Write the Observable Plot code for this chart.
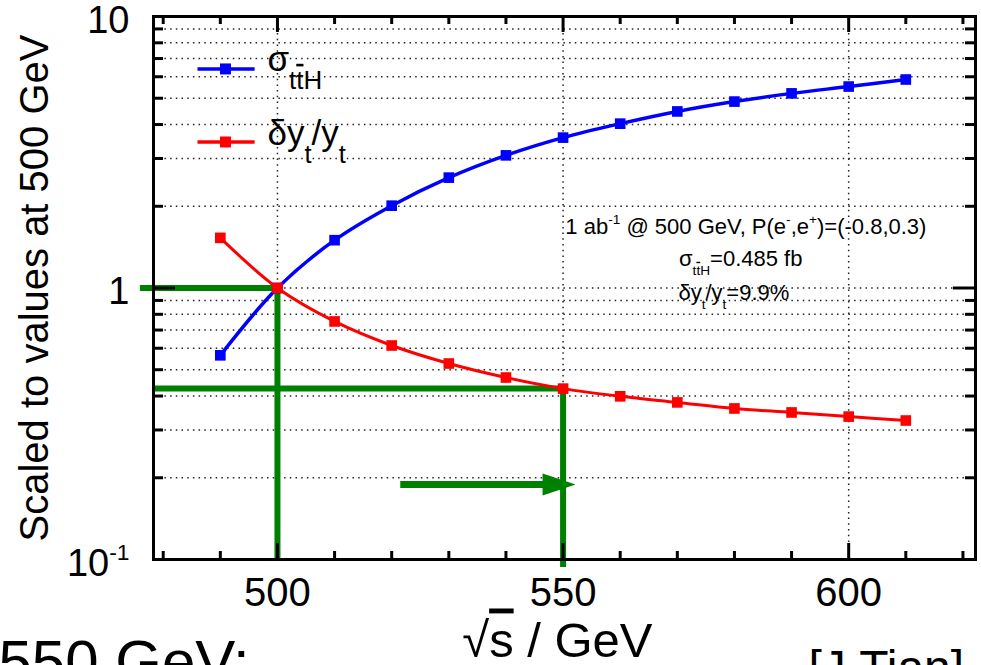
<!DOCTYPE html>
<html><head><meta charset="utf-8">
<script src="https://cdn.jsdelivr.net/npm/d3@7"></script>
<script src="https://cdn.jsdelivr.net/npm/@observablehq/plot@0.6"></script>
<style>html,body{margin:0;padding:0;background:#fff;overflow:hidden}</style>
</head><body><div id="chart"></div>
<script>
// ---- data ----
const energy = [490, 500, 510, 520, 530, 540, 550, 560, 570, 580, 590, 600, 610];
const sigmaTTH = [0.565, 1.0, 1.50, 2.01, 2.55, 3.08, 3.58, 4.03, 4.47, 4.86, 5.21, 5.52, 5.86];
const yukawaPrecision = [1.53, 1.0, 0.753, 0.614, 0.527, 0.468, 0.426, 0.399, 0.379, 0.360, 0.348, 0.336, 0.325];
const xMajorTicks = [500, 550, 600];
const xMinorTicks = [480, 490, 510, 520, 530, 540, 560, 570, 580, 590, 610, 620];
const yMajorTicks = [0.1, 1, 10];
const yMinorTicks = [0.2, 0.3, 0.4, 0.5, 0.6, 0.7, 0.8, 0.9, 2, 3, 4, 5, 6, 7, 8, 9];
const yLabels = ["10⁻¹", "1", "10"];
const seriesNames = ["σtt̄H", "δyt/yt"];
const annotationLines = ["1 ab-1 @ 500 GeV, P(e-,e+)=(-0.8,0.3)", "σtt̄H=0.485 fb", "δyt/yt=9.9%"];
// guide lines (reading 550 GeV off the curve)
const guideH = [{x1: 476.0, x2: 500, y: 1}, {x1: 478.3, x2: 550, y: 0.426}];
const guideV = [{x: 500, y1: 1, y2: 0.1}, {x: 550, y1: 0.426, y2: 0.0935}];

// ---- layout ----
const W = 981, H = 665, mL = 153, mR = 6, mT = 16, mB = 106;
const FW = W - mL - mR, FH = H - mT - mB;
const BLUE = "#0000ff", RED = "#ff0000", GREEN = "#008000";

const sigmaRows = energy.map((e, i) => ({energy: e, value: sigmaTTH[i]}));
const yukawaRows = energy.map((e, i) => ({energy: e, value: yukawaPrecision[i]}));
const legendRows = [
  {name: seriesNames[0], color: BLUE, y: 6.41, ty: 6.95},
  {name: seriesNames[1], color: RED, y: 3.45, ty: 3.71}
];
const annRows = [
  {t: annotationLines[0], x: 582.0, y: 1.685},
  {t: annotationLines[1], x: 581.1, y: 1.284},
  {t: annotationLines[2], x: 579.9, y: 0.962}
];
const arrowHead = {
  draw(ctx, size) {
    const r = Math.sqrt(size / Math.PI);
    ctx.moveTo(r, 0); ctx.lineTo(-r, -0.67 * r); ctx.lineTo(-r, 0.67 * r); ctx.closePath();
  }
};
const dotted = {stroke: "#222", strokeWidth: 1.5, strokeDasharray: "1.5,4.2"};

const plot = Plot.plot({
  width: W, height: H,
  marginLeft: mL, marginRight: mR, marginTop: mT, marginBottom: mB,
  style: {fontFamily: "'Liberation Sans', Arial, Helvetica, sans-serif", background: "white", color: "black"},
  x: {domain: [478.3, 622.2], axis: null},
  y: {type: "log", domain: [0.1, 10], axis: null},
  marks: [
    // grid
    Plot.ruleY([...yMinorTicks, 1], {y: d => d, ...dotted}),
    Plot.ruleX(xMajorTicks, {x: d => d, ...dotted}),
    // green guides
    Plot.ruleY(guideH, {y: "y", x1: "x1", x2: "x2", stroke: GREEN, strokeWidth: 6}),
    Plot.ruleX(guideV, {x: "x", y1: "y1", y2: "y2", stroke: GREEN, strokeWidth: 6}),
    Plot.link([{x1: 521.5, x2: 546.5, y: 0.189}], {x1: "x1", x2: "x2", y1: "y", y2: "y", stroke: GREEN, strokeWidth: 7}),
    Plot.dot([{x: 549.3, y: 0.189}], {x: "x", y: "y", r: 16.5, symbol: arrowHead, fill: GREEN, stroke: "none"}),
    // series
    Plot.line(sigmaRows, {x: "energy", y: "value", stroke: BLUE, strokeWidth: 3.5, curve: "catmull-rom"}),
    Plot.dot(sigmaRows, {x: "energy", y: "value", symbol: "square", r: 6, fill: BLUE, stroke: "none"}),
    Plot.line(yukawaRows, {x: "energy", y: "value", stroke: RED, strokeWidth: 3, curve: "catmull-rom"}),
    Plot.dot(yukawaRows, {x: "energy", y: "value", symbol: "square", r: 6, fill: RED, stroke: "none"}),
    // ticks (inward, all four sides)
    Plot.tickX(xMinorTicks, {x: d => d, insetTop: FH - 8, strokeWidth: 3}),
    Plot.tickX(xMinorTicks, {x: d => d, insetBottom: FH - 8, strokeWidth: 3}),
    Plot.tickX(xMajorTicks, {x: d => d, insetTop: FH - 16, strokeWidth: 3}),
    Plot.tickX(xMajorTicks, {x: d => d, insetBottom: FH - 16, strokeWidth: 3}),
    Plot.tickY(yMinorTicks, {y: d => d, insetRight: FW - 10, strokeWidth: 3}),
    Plot.tickY(yMinorTicks, {y: d => d, insetLeft: FW - 10, strokeWidth: 3}),
    Plot.tickY([1], {y: d => d, insetRight: FW - 22, strokeWidth: 3}),
    Plot.tickY([1], {y: d => d, insetLeft: FW - 22, strokeWidth: 3}),
    Plot.frame({stroke: "black", strokeWidth: 3}),
    // tick labels
    Plot.text(xMajorTicks, {x: d => d, text: d => String(d), frameAnchor: "bottom", lineAnchor: "bottom", dy: 46, fontSize: 40}),
    Plot.text(yMajorTicks, {y: d => d, text: (d, i) => yLabels[i], frameAnchor: "left", dx: -24, dy: 4, textAnchor: "end", lineAnchor: "middle", fontSize: 38}),
    // axis titles
    Plot.text(["Scaled to values at 500 GeV"], {frameAnchor: "left", dx: -118, rotate: -90, textAnchor: "middle", lineAnchor: "middle", fontSize: 40}),
    Plot.text(["√s / GeV"], {x: () => 549, frameAnchor: "bottom", lineAnchor: "bottom", textAnchor: "middle", dy: 97, fontSize: 49}),
    // legend
    Plot.link(legendRows, {x1: () => 486.0, x2: () => 496.0, y1: "y", y2: "y", stroke: "color", strokeWidth: 3.5}),
    Plot.dot(legendRows, {x: () => 490.9, y: "y", symbol: "square", r: 6.2, fill: "color", stroke: "none"}),
    Plot.text(legendRows, {x: () => 498.25, y: "ty", text: "name", textAnchor: "start", lineAnchor: "middle", fontSize: 35}),
    // annotation
    Plot.text(annRows, {x: "x", y: "y", text: "t", textAnchor: "middle", lineAnchor: "middle", fontSize: 22}),
    // slide text partially visible at the bottom
    Plot.text(["550 GeV:"], {frameAnchor: "bottom-left", dx: -155, dy: 122, textAnchor: "start", lineAnchor: "bottom", fontSize: 60}),
    Plot.text(["[J.Tian]"], {frameAnchor: "bottom-left", dx: 655, dy: 124, textAnchor: "start", lineAnchor: "bottom", fontSize: 48})
  ]
});
document.getElementById("chart").appendChild(plot);

// ---- rich text (sub/superscripts) ----
const SVGNS = "http://www.w3.org/2000/svg";
const rich = {
  "10⁻¹": [["10"], ["-1", "sup", 0.6, 0.42]],
  "σtt̄H": [["σ"], ["t", "sub", 0.74, 0.52], ["t", "sub", 0.74, 0.52, true], ["H", "sub", 0.74, 0.52]],
  "δyt/yt": [["δy"], ["t", "sub", 0.72, 0.52], ["/y"], ["t", "sub", 0.72, 0.52]],
  "1 ab-1 @ 500 GeV, P(e-,e+)=(-0.8,0.3)": [["1 ab"], ["-1", "sup", 0.62, 0.42], [" @ 500 GeV, P(e"], ["-", "sup", 0.62, 0.42], [",e"], ["+", "sup", 0.62, 0.42], [")=(-0.8,0.3)"]],
  "σtt̄H=0.485 fb": [["σ"], ["t", "sub", 0.62, 0.42], ["t", "sub", 0.62, 0.42, true], ["H", "sub", 0.62, 0.42], ["=0.485 fb"]],
  "δyt/yt=9.9%": [["δy"], ["t", "sub", 0.62, 0.42], ["/y"], ["t", "sub", 0.62, 0.42], ["=9.9%"]],
  "√s / GeV": [["√"], ["s", "", 0, 0, true], [" / GeV"]]
};
d3.select(plot).selectAll("text").each(function () {
  const spec = rich[this.textContent];
  if (!spec) return;
  const fs = parseFloat(getComputedStyle(this).fontSize);
  this.textContent = "";
  let shift = 0;
  for (const [str, kind, sizeRatio, shiftRatio, over] of spec) {
    const ts = document.createElementNS(SVGNS, "tspan");
    let target = 0;
    if (kind === "sub") target = fs * shiftRatio;
    if (kind === "sup") target = -fs * shiftRatio;
    if (target - shift !== 0) ts.setAttribute("dy", target - shift);
    shift = target;
    if (sizeRatio) ts.setAttribute("font-size", fs * sizeRatio);
    if (over) ts.setAttribute("style", "text-decoration: overline");
    ts.textContent = str;
    this.appendChild(ts);
  }
});
</script>
</body></html>
